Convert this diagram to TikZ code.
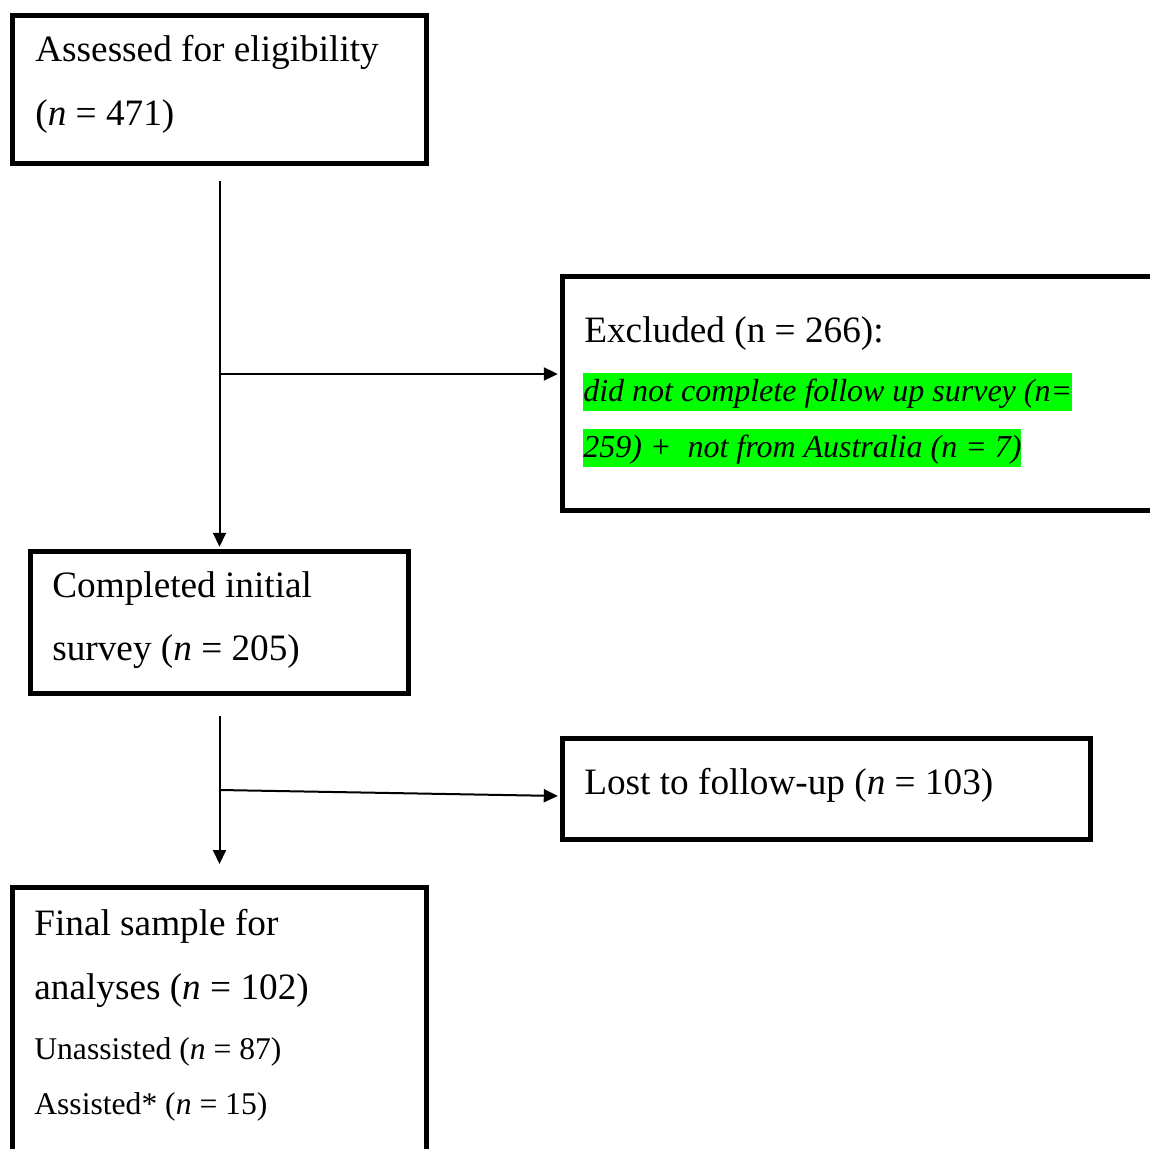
\documentclass[tikz,border=0pt]{standalone}
\usepackage{fontspec}
\setmainfont{Liberation Serif}
\usetikzlibrary{arrows.meta,calc}
\definecolor{hlgreen}{HTML}{00FF00}
\begin{document}
\begin{tikzpicture}[x=0.02cm,y=-0.02cm,
  box/.style={draw=black,line width=0.1cm,inner sep=0pt},
  conn/.style={draw=black,line width=0.04cm},
  tip/.style={-{Triangle[length=0.28cm,width=0.26cm]}},
  bigtxt/.style={anchor=base west,inner sep=0pt,font=\fontsize{21.2pt}{25pt}\selectfont},
  smalltxt/.style={anchor=base west,inner sep=0pt,font=\fontsize{18pt}{22pt}\selectfont},
  greentxt/.style={anchor=base west,inner sep=0pt,fill=hlgreen,text height=0.56cm,text depth=0.19cm,font=\fontsize{18.2pt}{22pt}\selectfont\itshape}]
\useasboundingbox (0,0) rectangle (1150,1149);
% boxes
\node[box,minimum width=8.3cm,minimum height=2.98cm] (b1) at (219.5,89.5) {};
\node[box,minimum width=12.16cm,minimum height=4.7cm] (b2) at (866,393.5) {};
\node[box,minimum width=7.58cm,minimum height=2.86cm] (b3) at (219.5,622.5) {};
\node[box,minimum width=10.58cm,minimum height=2.04cm] (b4) at (826.5,789) {};
\node[box,minimum width=8.3cm,minimum height=5.66cm] (b5) at (219.5,1028.5) {};
% texts
\node[bigtxt] (t1a) at (35,62) {Assessed for eligibility};
\node[bigtxt] (t1b) at (35,126) {(\textit{n} = 471)};
\node[bigtxt] (t2a) at (584,342) {Excluded (n = 266):};
\node[greentxt] (t2b) at (583,401) {did not complete follow up survey (n=};
\node[greentxt] (t2c) at (583,457) {259) +\ \ not from Australia (n = 7)};
\node[bigtxt] (t3a) at (52,597) {Completed initial};
\node[bigtxt] (t3b) at (52,660) {survey (\textit{n} = 205)};
\node[bigtxt] (t4a) at (584,794) {Lost to follow-up (\textit{n} = 103)};
\node[bigtxt] (t5a) at (34,935) {Final sample for};
\node[bigtxt] (t5b) at (34,999) {analyses (\textit{n} = 102)};
\node[smalltxt] (t5c) at (34,1059) {Unassisted (\textit{n} = 87)};
\node[smalltxt] (t5d) at (34,1114) {Assisted* (\textit{n} = 15)};
% connectors
\coordinate (s1) at (219.5,181);
\coordinate (j1) at (219.5,374);
\draw[conn,tip,shorten >=1pt] (s1) -- (b3.north);
\draw[conn,tip,shorten >=1pt] (j1) -- (j1 -| b2.west);
\coordinate (s2) at (219.5,716);
\coordinate (j2) at (219.5,790);
\coordinate (e2) at (219.5,864);
\draw[conn,tip] (s2) -- (e2);
\draw[conn,tip,shorten >=1pt] (j2) -- ($(b4.west)+(0,7)$);
\end{tikzpicture}
\end{document}
